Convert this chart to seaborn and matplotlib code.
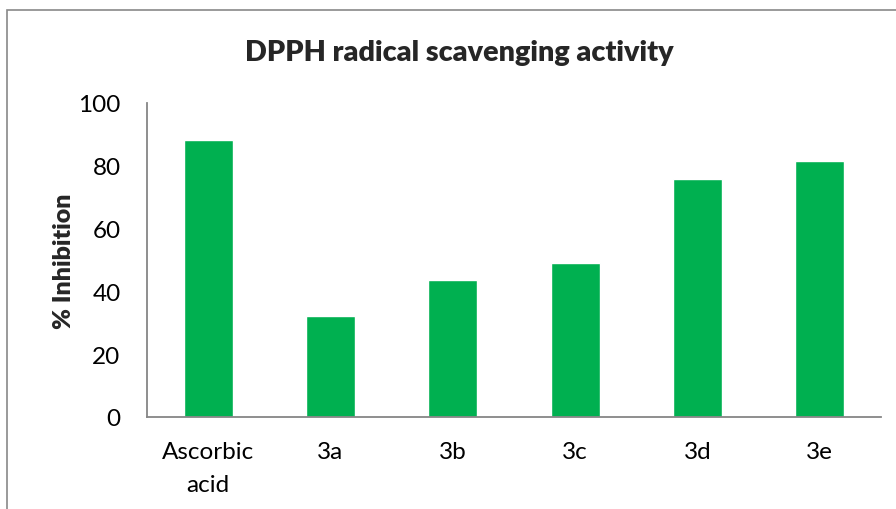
import pandas as pd
import matplotlib.pyplot as plt
import seaborn as sns
from matplotlib.patches import Rectangle

# values
compounds = ['Ascorbic\nacid', '3a', '3b', '3c', '3d', '3e']
inhibition = [88.2, 32.1, 43.6, 49.0, 75.8, 81.4]

data = pd.DataFrame({'Compound': compounds, '% Inhibition': inhibition})

sns.set_style('white')
plt.rcParams['font.family'] = ['Lato', 'DejaVu Sans']

fig = plt.figure(figsize=(8.96, 5.10), dpi=100)
ax = fig.add_axes([147 / 896, 1 - 418 / 510, (881 - 147) / 896, (418 - 104) / 510])

sns.barplot(x='Compound', y='% Inhibition', data=data, color='#00B050',
            width=0.4, saturation=1, ax=ax)

ax.set_ylim(0, 100)
ax.set_yticks(range(0, 101, 20))
ax.set_xlim(-0.5, len(compounds) - 0.5)
ax.tick_params(axis='both', length=0, labelsize=17.5, colors='black')
ax.tick_params(axis='y', pad=19)
ax.tick_params(axis='x', pad=17)
for t in ax.get_xticklabels():
    t.set_linespacing(1.75)
    t.set_verticalalignment('top')

ax.set_xlabel('')
ax.set_ylabel('% Inhibition', fontsize=18, fontweight='heavy', labelpad=2)

for side in ['top', 'right']:
    ax.spines[side].set_visible(False)
for side in ['left', 'bottom']:
    ax.spines[side].set_color('#868686')
    ax.spines[side].set_linewidth(1.3)

fig.text(459 / 896, 1 - 53 / 510, 'DPPH radical scavenging activity',
         ha='center', va='center', fontsize=20.7, fontweight='heavy')

# chart area border (only top and left edges visible in the crop)
fig.patches.append(Rectangle((7 / 896, -0.1), 1.2, 1 - 11 / 510 + 0.1,
                             transform=fig.transFigure, fill=False,
                             edgecolor='#898989', linewidth=1.2))

plt.savefig('out.png', dpi=100)
